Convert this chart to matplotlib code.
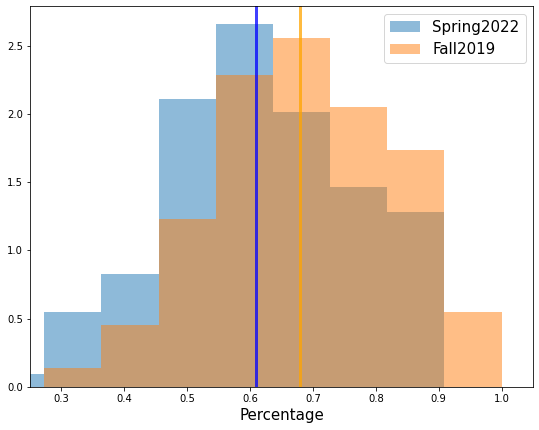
import numpy as np
import matplotlib
matplotlib.use("Agg")
from matplotlib import pyplot as plt

# bin edges (width 1/11) and density heights
bin_edges = [0.1818, 0.2727, 0.3636, 0.4545, 0.5455, 0.6364, 0.7273, 0.8182, 0.9091, 1.0]
spring2022 = [0.092, 0.55, 0.825, 2.108, 2.658, 2.017, 1.467, 1.283, 0.0]
fall2019 = [0.0, 0.137, 0.456, 1.232, 2.282, 2.556, 2.054, 1.734, 0.548]
spring_mean = 0.609
fall_mean = 0.680

centers = (np.array(bin_edges[:-1]) + np.array(bin_edges[1:])) / 2

fig = plt.figure(figsize=(539 / 72, 430 / 72), dpi=72)
ax = fig.add_axes([30 / 539, 1 - 387 / 430, 503 / 539, 381 / 430])

ax.hist(centers, bins=bin_edges, weights=spring2022, alpha=0.5, label='Spring2022')
ax.hist(centers, bins=bin_edges, weights=fall2019, alpha=0.5, label='Fall2019')
ax.axvline(spring_mean, color='blue', alpha=0.75, linewidth=3)
ax.axvline(fall_mean, color='orange', alpha=0.75, linewidth=3)

ax.set_xlim(0.25, 1.05)
ax.set_xlabel('Percentage', fontsize=15)
ax.tick_params(labelsize=10)
ax.legend(fontsize=15, loc='upper right')

fig.savefig('out.png', dpi=72)
